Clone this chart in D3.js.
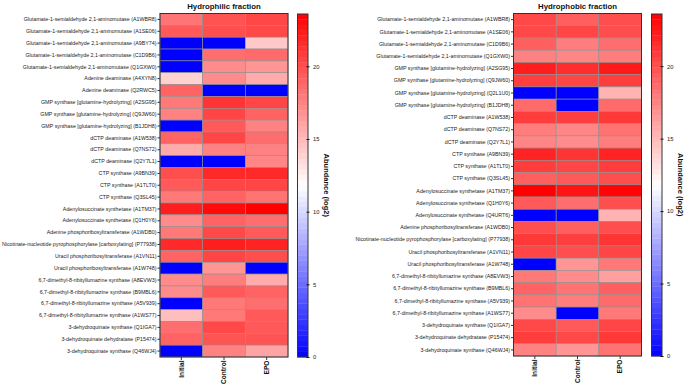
<!DOCTYPE html>
<html><head><meta charset="utf-8">
<script src="https://cdn.jsdelivr.net/npm/d3@7"></script>
<style>html,body{margin:0;padding:0;background:#fff;}svg{display:block;font-family:"Liberation Sans",Arial,sans-serif;}</style>
</head><body>
<svg id="chart" width="685" height="384"></svg>
<script>
const groups = ["Initial", "Control", "EPO"];

const philicRows = [
"Glutamate-1-semialdehyde 2,1-aminomutase (A1WBR8)",
"Glutamate-1-semialdehyde 2,1-aminomutase (A1SE06)",
"Glutamate-1-semialdehyde 2,1-aminomutase (A9BY74)",
"Glutamate-1-semialdehyde 2,1-aminomutase (C1D9B6)",
"Glutamate-1-semialdehyde 2,1-aminomutase (Q1GXW0)",
"Adenine deaminase (A4XYN8)",
"Adenine deaminase (Q2RWC5)",
"GMP synthase [glutamine-hydrolyzing] (A2SG95)",
"GMP synthase [glutamine-hydrolyzing] (Q9JW60)",
"GMP synthase [glutamine-hydrolyzing] (B1JDH8)",
"dCTP deaminase (A1W538)",
"dCTP deaminase (Q7NS72)",
"dCTP deaminase (Q2Y7L1)",
"CTP synthase (A9BN39)",
"CTP synthase (A1TLT0)",
"CTP synthase (Q3SL45)",
"Adenylosuccinate synthetase (A1TM37)",
"Adenylosuccinate synthetase (Q1H0Y6)",
"Adenine phosphoribosyltransferase (A1WDB0)",
"Nicotinate-nucleotide pyrophosphorylase [carboxylating] (P77938)",
"Uracil phosphoribosyltransferase (A1VN11)",
"Uracil phosphoribosyltransferase (A1W748)",
"6,7-dimethyl-8-ribityllumazine synthase (A8EVW3)",
"6,7-dimethyl-8-ribityllumazine synthase (B9MBL6)",
"6,7-dimethyl-8-ribityllumazine synthase (A5V939)",
"6,7-dimethyl-8-ribityllumazine synthase (A1WS77)",
"3-dehydroquinate synthase (Q1IGA7)",
"3-dehydroquinate dehydratase (P15474)",
"3-dehydroquinate synthase (Q46WJ4)"];
const philicInitial = [18.2,19.5,0,0,0,13.9,19.0,18.0,17.6,0,19.0,15.7,0,20.0,19.5,18.0,22.2,17.1,18.0,21.7,19.0,0,17.1,17.1,0,14.8,18.5,19.0,0];
const philicControl = [19.8,20.0,0,18.5,17.1,17.1,0,21.2,20.4,19.5,20.4,17.6,0,21.7,20.4,19.0,23.1,19.0,20.2,22.2,20.4,16.7,17.8,19.5,18.0,18.0,20.2,19.7,17.6];
const philicEPO     = [20.3,20.2,14.3,18.7,16.7,15.7,0,20.4,19.0,17.6,18.5,17.6,17.4,21.7,20.4,18.3,23.6,18.5,19.5,22.0,20.0,0,15.7,19.0,18.5,19.5,19.5,19.7,16.0];

const phobicRows = [
"Glutamate-1-semialdehyde 2,1-aminomutase (A1WBR8)",
"Glutamate-1-semialdehyde 2,1-aminomutase (A1SE06)",
"Glutamate-1-semialdehyde 2,1-aminomutase (C1D9B6)",
"Glutamate-1-semialdehyde 2,1-aminomutase (Q1GXW0)",
"GMP synthase [glutamine-hydrolyzing] (A2SG95)",
"GMP synthase [glutamine-hydrolyzing] (Q9JW60)",
"GMP synthase [glutamine-hydrolyzing] (Q2L1U0)",
"GMP synthase [glutamine-hydrolyzing] (B1JDH8)",
"dCTP deaminase (A1W538)",
"dCTP deaminase (Q7NS72)",
"dCTP deaminase (Q2Y7L1)",
"CTP synthase (A9BN39)",
"CTP synthase (A1TLT0)",
"CTP synthase (Q3SL45)",
"Adenylosuccinate synthetase (A1TM37)",
"Adenylosuccinate synthetase (Q1H0Y6)",
"Adenylosuccinate synthetase (Q4URT6)",
"Adenine phosphoribosyltransferase (A1WDB0)",
"Nicotinate-nucleotide pyrophosphorylase [carboxylating] (P77938)",
"Uracil phosphoribosyltransferase (A1VN11)",
"Uracil phosphoribosyltransferase (A1W748)",
"6,7-dimethyl-8-ribityllumazine synthase (A8EVW3)",
"6,7-dimethyl-8-ribityllumazine synthase (B9MBL6)",
"6,7-dimethyl-8-ribityllumazine synthase (A5V939)",
"6,7-dimethyl-8-ribityllumazine synthase (A1WS77)",
"3-dehydroquinate synthase (Q1IGA7)",
"3-dehydroquinate dehydratase (P15474)",
"3-dehydroquinate synthase (Q46WJ4)"];
const phobicInitial = [20.2,20.2,19.2,17.6,22.2,20.7,0,18.7,20.8,17.8,17.4,22.0,20.8,19.2,23.6,19.5,0,20.0,21.0,20.4,0,18.0,19.0,18.3,17.1,20.2,20.8,17.6];
const phobicControl = [19.2,20.4,17.8,17.4,21.5,20.4,0,0,20.7,17.4,17.1,21.2,20.4,19.5,22.7,18.5,0,19.2,20.7,20.0,16.7,17.1,18.3,17.8,0,19.5,20.2,16.7];
const phobicEPO     = [20.0,20.0,18.5,17.8,22.4,20.8,15.3,18.7,21.0,18.3,17.8,22.0,20.8,20.0,23.4,20.0,15.3,20.0,21.2,20.4,18.0,16.2,19.2,18.7,18.0,20.4,21.0,18.3];

const colorTicks = [0, 5, 10, 15, 20];
const colorMax = 23.6;

const svg = d3.select("#chart");
const color = d3.scaleLinear().domain([0, colorMax/2, colorMax]).range(["#0000ff", "#ffffff", "#ff0000"]);

function panel(cfg) {
  const {rows, series, title, x0, x1, y0, y1, cbX} = cfg;
  const g = svg.append("g");
  const x = d3.scaleBand().domain(groups).range([x0, x1]);
  const y = d3.scaleBand().domain(rows).range([y0, y1]);
  const cells = [];
  rows.forEach((r, i) => groups.forEach((c, j) => cells.push({r, c, v: series[j][i]})));
  g.selectAll("rect.cell").data(cells).join("rect")
    .attr("x", d => x(d.c)).attr("y", d => y(d.r))
    .attr("width", x.bandwidth()).attr("height", y.bandwidth())
    .attr("fill", d => color(d.v))
    .attr("stroke", "#8f8f8f").attr("stroke-width", 0.6);
  g.append("rect").attr("x", x0).attr("y", y0).attr("width", x1 - x0).attr("height", y1 - y0)
    .attr("fill", "none").attr("stroke", "#333").attr("stroke-width", 1);

  const ya = g.append("g").attr("transform", `translate(${x0},0)`)
    .call(d3.axisLeft(y).tickSize(2.5).tickPadding(1));
  ya.select(".domain").remove();
  ya.selectAll("text").attr("font-size", 5.3).attr("fill", "#222").attr("font-family", "Liberation Sans, Arial, sans-serif");
  ya.selectAll("line").attr("stroke", "#333");

  const xa = g.append("g").attr("transform", `translate(0,${y1})`)
    .call(d3.axisBottom(x).tickSize(3).tickPadding(2));
  xa.select(".domain").remove();
  xa.selectAll("line").attr("stroke", "#333");
  xa.selectAll("text").attr("font-size", 6.6).attr("font-weight", "bold").attr("fill", "#111")
    .attr("font-family", "Liberation Sans, Arial, sans-serif")
    .attr("transform", "rotate(-90)").attr("text-anchor", "end")
    .attr("x", -3.5).attr("y", 0).attr("dy", "0.35em");

  g.append("text").attr("x", (x0 + x1) / 2).attr("y", 9).attr("text-anchor", "middle")
    .attr("font-size", 7.8).attr("font-weight", "bold").attr("fill", "#111").text(title);

  // colour bar
  const cbW = 10.5;
  const cy = d3.scaleLinear().domain([0, colorMax]).range([y1, y0 + 0.5]);
  const steps = d3.range(0, 64);
  const stepV = colorMax / 64;
  g.selectAll("rect.cb").data(steps).join("rect")
    .attr("x", cbX).attr("width", cbW)
    .attr("y", d => cy((d + 1) * stepV)).attr("height", d => cy(d * stepV) - cy((d + 1) * stepV) + 0.3)
    .attr("fill", d => color((d + 0.5) * stepV));
  g.append("rect").attr("x", cbX).attr("y", cy(colorMax)).attr("width", cbW).attr("height", cy(0) - cy(colorMax))
    .attr("fill", "none").attr("stroke", "#333").attr("stroke-width", 1);
  const ca = g.append("g").attr("transform", `translate(${cbX + cbW},0)`)
    .call(d3.axisRight(cy).tickValues(colorTicks).tickSize(2).tickPadding(3));
  ca.select(".domain").remove();
  ca.selectAll("line").attr("stroke", "#111").attr("x1", -1.5).attr("x2", 1.5);
  ca.selectAll("text").attr("font-size", 5.8).attr("fill", "#222").attr("font-family", "Liberation Sans, Arial, sans-serif");
  g.append("text").attr("transform", `translate(${cbX + cbW + 16},${(y0 + y1) / 2}) rotate(90)`)
    .attr("text-anchor", "middle").attr("font-size", 7.5).attr("font-weight", "bold").attr("fill", "#111")
    .text("Abundance (log2)");
}

panel({rows: philicRows, series: [philicInitial, philicControl, philicEPO], title: "Hydrophilic fraction",
  x0: 160, x1: 288, y0: 13.5, y1: 357, cbX: 297.5});
panel({rows: phobicRows, series: [phobicInitial, phobicControl, phobicEPO], title: "Hydrophobic fraction",
  x0: 513.5, x1: 641.5, y0: 13.5, y1: 356, cbX: 651.5});
</script>
</body></html>
